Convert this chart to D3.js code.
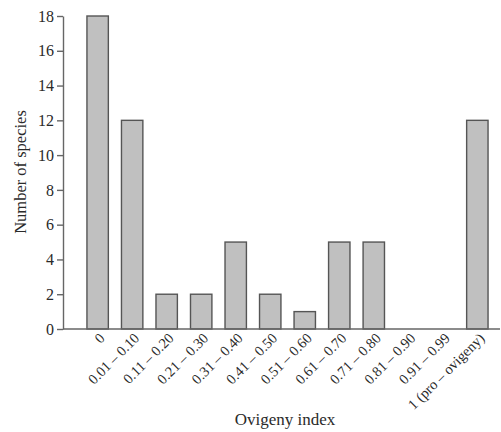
<!DOCTYPE html>
<html>
<head>
<meta charset="utf-8">
<script src="https://cdn.jsdelivr.net/npm/d3@7"></script>
<style>
  body { margin: 0; background: #fff; }
  text { font-family: "Liberation Serif", "DejaVu Serif", serif; fill: #2a2a2a; }
</style>
</head>
<body>
<div id="chart"></div>
<script>
// Ovigeny index classes and species counts
var categories = ["0", "0.01 – 0.10", "0.11 – 0.20", "0.21 – 0.30", "0.31 – 0.40",
  "0.41 – 0.50", "0.51 – 0.60", "0.61 – 0.70", "0.71 – 0.80", "0.81 – 0.90",
  "0.91 – 0.99", "1 (pro – ovigeny)"];
var counts = [18, 12, 2, 2, 5, 2, 1, 5, 5, 0, 0, 12];
var yTicks = [0, 2, 4, 6, 8, 10, 12, 14, 16, 18];

var svgWidth = 501;
var svgHeight = 432;

var margin = { top: 16, right: 1, bottom: 103, left: 63 };
var width = svgWidth - margin.left - margin.right;
var height = svgHeight - margin.top - margin.bottom;

var svg = d3.select("#chart")
  .append("svg")
  .attr("width", svgWidth)
  .attr("height", svgHeight);

var chartGroup = svg.append("g")
  .attr("transform", `translate(${margin.left}, ${margin.top})`);

// scales
var xScale = d3.scaleBand()
  .domain(categories)
  .range([0, width])
  .paddingInner(0.38)
  .paddingOuter(0.52)
  .align(0.667);

var yScale = d3.scaleLinear()
  .domain([0, 18])
  .range([height, 0]);

// bars
chartGroup.selectAll("rect")
  .data(counts)
  .enter()
  .append("rect")
  .attr("x", (d, i) => xScale(categories[i]))
  .attr("y", d => yScale(d))
  .attr("width", xScale.bandwidth())
  .attr("height", d => height - yScale(d))
  .attr("fill", "#c0c0c0")
  .attr("stroke", "#555")
  .attr("stroke-width", 1.4);

// y axis
var leftAxis = d3.axisLeft(yScale)
  .tickValues(yTicks)
  .tickSize(6)
  .tickSizeOuter(0)
  .tickPadding(3);

var yAxisGroup = chartGroup.append("g").call(leftAxis);
yAxisGroup.select(".domain").attr("stroke", "#666").attr("stroke-width", 1.4);
yAxisGroup.selectAll(".tick line").attr("stroke", "#666").attr("stroke-width", 1.4);
yAxisGroup.selectAll(".tick text")
  .style("font-family", "Liberation Serif, serif")
  .style("font-size", "16px")
  .attr("fill", "#2a2a2a");

// x axis line
chartGroup.append("line")
  .attr("x1", 0)
  .attr("x2", width)
  .attr("y1", height)
  .attr("y2", height)
  .attr("stroke", "#666")
  .attr("stroke-width", 1.4);

// rotated category labels
chartGroup.selectAll(".xlabel")
  .data(categories)
  .enter()
  .append("text")
  .attr("class", "xlabel")
  .attr("transform", d => `translate(${xScale(d) + xScale.bandwidth() / 2 + 8}, ${height + 10}) rotate(-45)`)
  .style("text-anchor", "end")
  .style("font-size", "14.5px")
  .text(d => d);

// axis titles
chartGroup.append("text")
  .attr("transform", "rotate(-90)")
  .attr("x", -156)
  .attr("y", 0 - margin.left + 26)
  .style("text-anchor", "middle")
  .style("font-size", "16.5px")
  .text("Number of species");

chartGroup.append("text")
  .attr("x", 222)
  .attr("y", height + 96)
  .style("text-anchor", "middle")
  .style("font-size", "17px")
  .text("Ovigeny index");
</script>
</body>
</html>
